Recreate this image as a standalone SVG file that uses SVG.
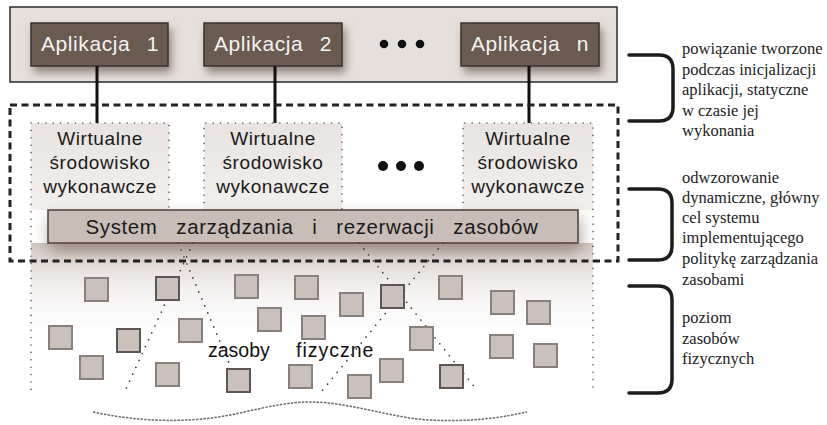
<svg xmlns="http://www.w3.org/2000/svg" width="827" height="425" viewBox="0 0 827 425">
<defs>
<filter id="appShadow" x="-20%" y="-30%" width="150%" height="180%">
<feDropShadow dx="3" dy="6" stdDeviation="4" flood-color="#4a3a30" flood-opacity="0.55"/>
</filter>
<filter id="barShadow" x="-10%" y="-50%" width="120%" height="300%">
<feDropShadow dx="2" dy="8" stdDeviation="8" flood-color="#6e5a4e" flood-opacity="0.55"/>
</filter>
<linearGradient id="areaGrad" x1="0" y1="0" x2="0" y2="1">
<stop offset="0" stop-color="#cfc5bf"/>
<stop offset="0.12" stop-color="#e2dbd7"/>
<stop offset="0.35" stop-color="#f6f4f3"/>
<stop offset="0.6" stop-color="#ffffff"/>
<stop offset="1" stop-color="#ffffff"/>
</linearGradient>
<linearGradient id="vGrad" x1="0" y1="0" x2="0" y2="1">
<stop offset="0" stop-color="#e8e3e0"/>
<stop offset="1" stop-color="#f2efed"/>
</linearGradient>
<style>
.app rect{fill:#6a5a4f;stroke:#3c322c;stroke-width:1.5;filter:url(#appShadow)}
.app text{font-family:"Liberation Sans",Arial,sans-serif;font-size:21px;fill:#f4f2f0;text-anchor:middle;letter-spacing:0.6px;word-spacing:10px}
.venv rect{fill:url(#vGrad);stroke:none}
.dot{fill:none;stroke:#555;stroke-width:1.6;stroke-linecap:round;stroke-dasharray:0 7.4}
.venv text{font-family:"Liberation Sans",Arial,sans-serif;font-size:19px;fill:#1a1a1a;text-anchor:middle;letter-spacing:0.6px}
.conn{stroke:#111;stroke-width:3;fill:none}
.sq{fill:#cbc1bc;stroke:#8a807b;stroke-width:2}
.sqd{fill:#cbc1bc;stroke:#5e5652;stroke-width:2}
.cone{fill:none;stroke:#3a3a3a;stroke-width:1.7;stroke-linecap:round;stroke-dasharray:0 7.6}
.brace{fill:none;stroke:#1c1c1c;stroke-width:3.5;stroke-linecap:round}
.note{font-family:"Liberation Serif","DejaVu Serif",serif;font-size:16.5px;fill:#222}
.ell{fill:#111}
</style>
</defs>

<!-- top container -->
<rect x="10" y="7" width="607" height="75" fill="#e6e0dd" stroke="#2b2b2b" stroke-width="1.5"/>

<!-- resource area shading -->
<rect x="31" y="243" width="562" height="147" fill="url(#areaGrad)"/>

<!-- virtual environments -->
<g id="venv1" class="venv">
<rect x="31" y="123" width="138" height="87"/>
<path class="dot" d="M31,123 H169 V210 M31,123 V390"/>
<text x="100" y="145">Wirtualne</text>
<text x="100" y="169">środowisko</text>
<text x="100" y="193">wykonawcze</text>
</g>
<g id="venv2" class="venv">
<rect x="204" y="123" width="138" height="87"/>
<path class="dot" d="M204,210 V123 H342 V210"/>
<text x="273" y="145">Wirtualne</text>
<text x="273" y="169">środowisko</text>
<text x="273" y="193">wykonawcze</text>
</g>
<g id="venvn" class="venv">
<rect x="463" y="123" width="130" height="87"/>
<path class="dot" d="M463,210 V123 H593 V390"/>
<text x="528" y="145">Wirtualne</text>
<text x="528" y="169">środowisko</text>
<text x="528" y="193">wykonawcze</text>
</g>
<g id="venv-ellipsis">
<circle class="ell" cx="383" cy="166" r="5"/>
<circle class="ell" cx="401" cy="166" r="5"/>
<circle class="ell" cx="419" cy="166" r="5"/>
</g>

<!-- system bar -->
<g id="system">
<rect x="48" y="210" width="530" height="33" fill="#c9bdb7" stroke="#4a403a" stroke-width="1.5" filter="url(#barShadow)"/>
<text x="312" y="234" font-family="Liberation Sans, Arial, sans-serif" font-size="20.5" fill="#1a1a1a" text-anchor="middle" letter-spacing="0.6" word-spacing="12.5">System zarządzania i rezerwacji zasobów</text>
</g>

<!-- applications -->
<g id="app1" class="app">
<rect x="31" y="23" width="137" height="43"/>
<text x="100" y="51">Aplikacja 1</text>
</g>
<g id="app2" class="app">
<rect x="204" y="23" width="138" height="43"/>
<text x="273" y="51">Aplikacja 2</text>
</g>
<g id="appn" class="app">
<rect x="461" y="23" width="138" height="43"/>
<text x="530" y="51">Aplikacja n</text>
</g>
<g id="app-ellipsis">
<circle class="ell" cx="384" cy="44" r="4.3"/>
<circle class="ell" cx="402" cy="44" r="4.3"/>
<circle class="ell" cx="420" cy="44" r="4.3"/>
</g>

<!-- connectors -->
<g id="connectors">
<line class="conn" x1="97" y1="66" x2="97" y2="123"/>
<line class="conn" x1="275" y1="66" x2="275" y2="123"/>
<line class="conn" x1="529" y1="66" x2="529" y2="123"/>
<line class="cone" x1="193" y1="243" x2="125" y2="391"/>
<line class="cone" x1="178" y1="243" x2="241" y2="391"/>
<line class="cone" x1="359" y1="243" x2="477" y2="390"/>
<line class="cone" x1="443" y1="243" x2="322" y2="391"/>
</g>

<!-- dashed boundary -->
<rect x="10" y="105" width="608" height="156" fill="none" stroke="#222" stroke-width="3" stroke-dasharray="7 4.5"/>

<!-- physical resources -->
<g id="resources">
<rect class="sq" x="85" y="278" width="23" height="23"/>
<rect class="sqd" x="156" y="277" width="23" height="23"/>
<rect class="sq" x="235" y="275" width="23" height="23"/>
<rect class="sq" x="295" y="276" width="23" height="23"/>
<rect class="sq" x="258" y="308" width="23" height="23"/>
<rect class="sq" x="302" y="316" width="23" height="23"/>
<rect class="sq" x="179" y="319" width="23" height="23"/>
<rect class="sq" x="49" y="326" width="23" height="23"/>
<rect class="sqd" x="117" y="329" width="23" height="23"/>
<rect class="sq" x="80" y="356" width="23" height="23"/>
<rect class="sq" x="156" y="363" width="23" height="23"/>
<rect class="sqd" x="227" y="369" width="23" height="23"/>
<rect class="sq" x="289" y="365" width="23" height="23"/>
<rect class="sq" x="340" y="293" width="23" height="23"/>
<rect class="sqd" x="381" y="285" width="23" height="23"/>
<rect class="sq" x="439" y="276" width="23" height="23"/>
<rect class="sq" x="491" y="291" width="23" height="23"/>
<rect class="sq" x="527" y="301" width="23" height="23"/>
<rect class="sq" x="410" y="327" width="23" height="23"/>
<rect class="sq" x="490" y="335" width="23" height="23"/>
<rect class="sq" x="534" y="344" width="23" height="23"/>
<rect class="sq" x="380" y="359" width="23" height="23"/>
<rect class="sqd" x="440" y="365" width="23" height="23"/>
<rect class="sq" x="348" y="375" width="23" height="23"/>
<text font-family="Liberation Sans, Arial, sans-serif" font-size="19.5" fill="#111" y="357"><tspan x="208">zasoby</tspan><tspan x="296" letter-spacing="1">fizyczne</tspan></text>
<path d="M93,412 C140,422 190,424 240,413 C270,406 290,402 310,402 C350,402 390,418 430,420 C470,422 500,418 527,412" fill="none" stroke="#6a6a6a" stroke-width="1.5" stroke-dasharray="2.5 1.2"/>
</g>

<!-- annotations -->
<g id="note1">
<path class="brace" d="M629,55 H659 Q673,55 673,69 V107 Q673,121 659,121 H629"/>
<text class="note"><tspan x="682" y="54">powiązanie tworzone</tspan><tspan x="682" y="75">podczas inicjalizacji</tspan><tspan x="682" y="95">aplikacji, statyczne</tspan><tspan x="682" y="116">w czasie jej</tspan><tspan x="682" y="136">wykonania</tspan></text>
</g>
<g id="note2">
<path class="brace" d="M629,189 H658 Q672,189 672,203 V246 Q672,260 658,260 H629"/>
<text class="note"><tspan x="682" y="183">odwzorowanie</tspan><tspan x="682" y="203">dynamiczne, główny</tspan><tspan x="682" y="223">cel systemu</tspan><tspan x="682" y="243">implementującego</tspan><tspan x="682" y="264">politykę zarządzania</tspan><tspan x="682" y="285">zasobami</tspan></text>
</g>
<g id="note3">
<path class="brace" d="M629,286 H658 Q672,286 672,300 V379 Q672,393 658,393 H629"/>
<text class="note"><tspan x="682" y="323">poziom</tspan><tspan x="682" y="344">zasobów</tspan><tspan x="682" y="364">fizycznych</tspan></text>
</g>
</svg>
